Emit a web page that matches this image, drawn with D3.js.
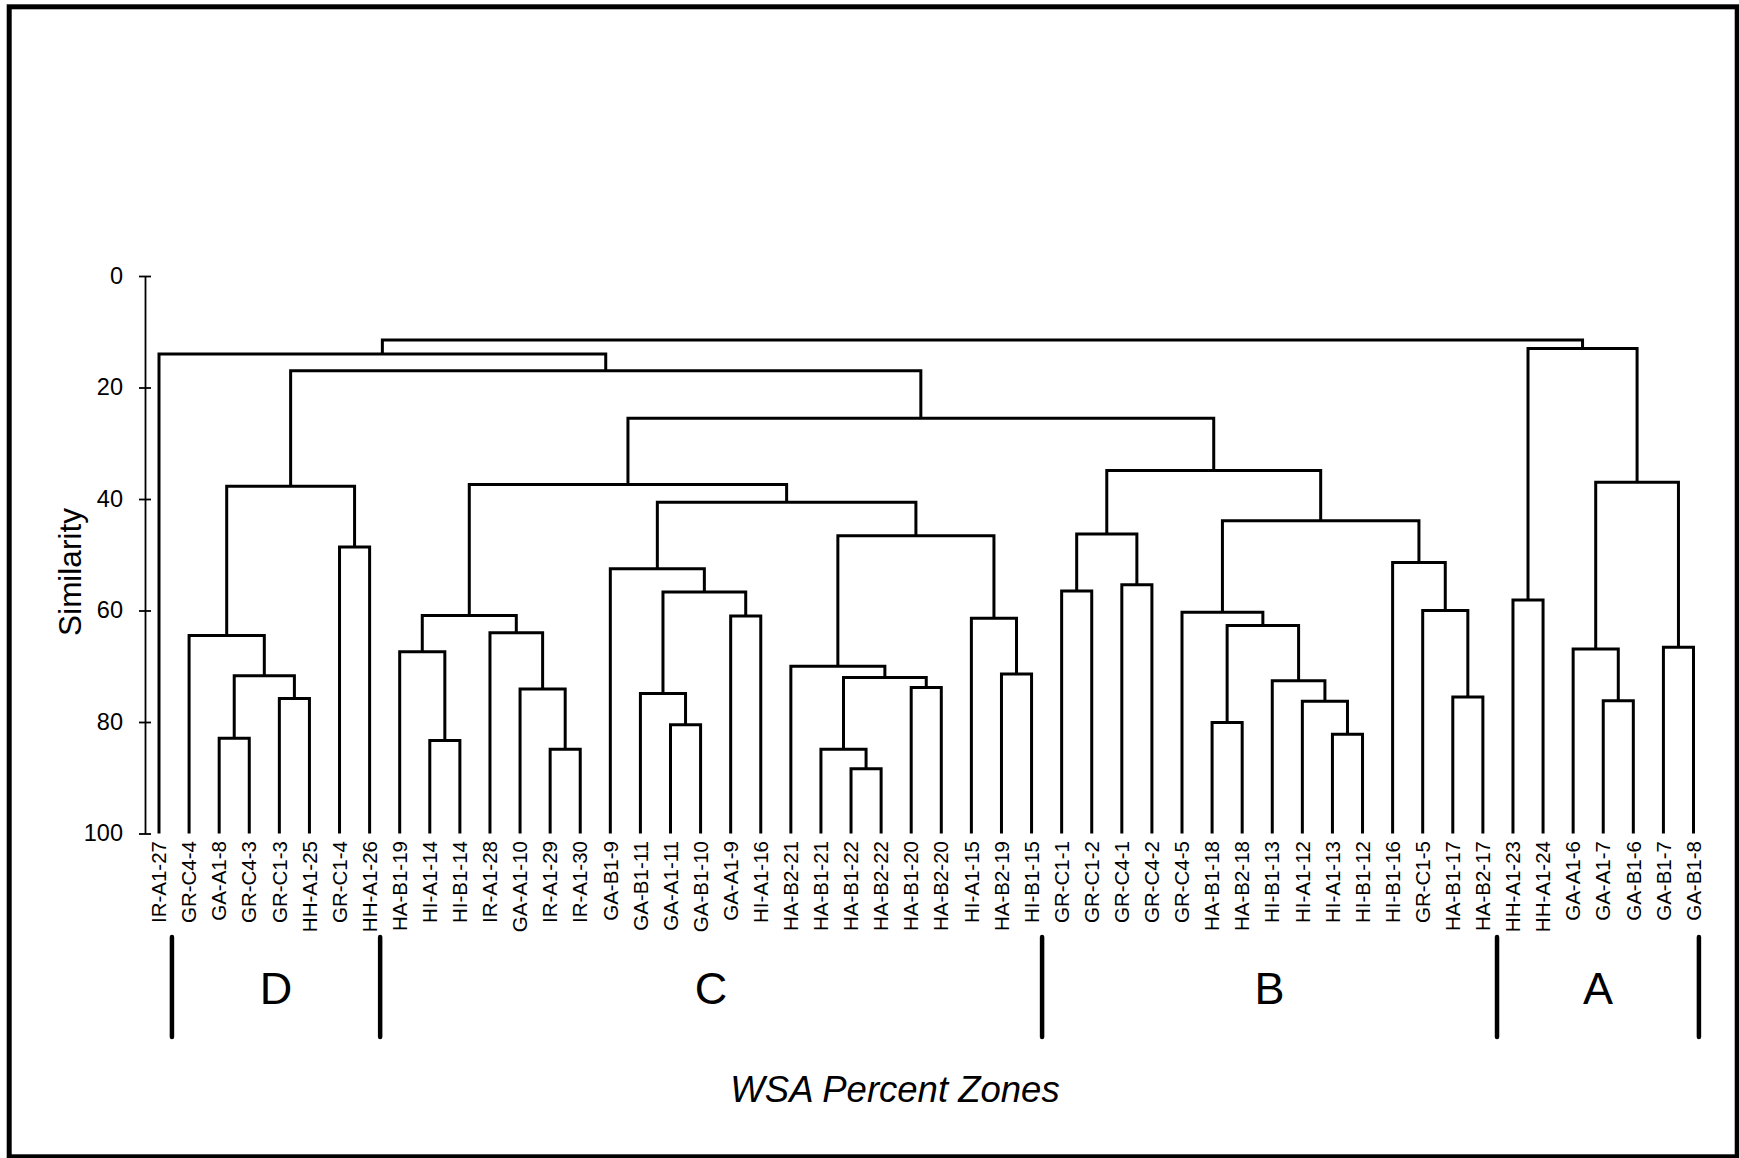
<!DOCTYPE html>
<html><head><meta charset="utf-8">
<script src="https://cdn.jsdelivr.net/npm/d3@7"></script>
<style>body{margin:0;background:#fff}</style>
</head><body><svg id="chart" width="1739" height="1158"></svg>
<script>
// ---- data ----
const leaves = [
  "IR-A1-27","GR-C4-4","GA-A1-8","GR-C4-3","GR-C1-3","HH-A1-25","GR-C1-4","HH-A1-26",
  "HA-B1-19","HI-A1-14","HI-B1-14","IR-A1-28","GA-A1-10","IR-A1-29","IR-A1-30","GA-B1-9",
  "GA-B1-11","GA-A1-11","GA-B1-10","GA-A1-9","HI-A1-16","HA-B2-21","HA-B1-21","HA-B1-22",
  "HA-B2-22","HA-B1-20","HA-B2-20","HI-A1-15","HA-B2-19","HI-B1-15",
  "GR-C1-1","GR-C1-2","GR-C4-1","GR-C4-2","GR-C4-5","HA-B1-18","HA-B2-18","HI-B1-13",
  "HI-A1-12","HI-A1-13","HI-B1-12","HI-B1-16","GR-C1-5","HA-B1-17","HA-B2-17",
  "HH-A1-23","HH-A1-24","GA-A1-6","GA-A1-7","GA-B1-6","GA-B1-7","GA-B1-8"
];
// merges: [id, left child, right child, similarity at which they join]
const merges = [
  ["m01","GA-A1-8","GR-C4-3",82.9],
  ["m02","GR-C1-3","HH-A1-25",75.8],
  ["m03","m01","m02",71.7],
  ["m04","GR-C4-4","m03",64.5],
  ["m05","GR-C1-4","HH-A1-26",48.6],
  ["m06","m04","m05",37.7],
  ["m07","HI-A1-14","HI-B1-14",83.3],
  ["m08","HA-B1-19","m07",67.4],
  ["m09","IR-A1-29","IR-A1-30",84.9],
  ["m10","GA-A1-10","m09",74.1],
  ["m11","IR-A1-28","m10",64.0],
  ["m12","m08","m11",60.9],
  ["m13","GA-A1-11","GA-B1-10",80.5],
  ["m14","GA-B1-11","m13",74.9],
  ["m15","GA-A1-9","HI-A1-16",61.0],
  ["m16","m14","m15",56.7],
  ["m17","GA-B1-9","m16",52.5],
  ["m18","HA-B1-22","HA-B2-22",88.4],
  ["m19","HA-B1-21","m18",84.9],
  ["m20","HA-B1-20","HA-B2-20",73.8],
  ["m21","m19","m20",72.0],
  ["m22","HA-B2-21","m21",70.0],
  ["m23","HA-B2-19","HI-B1-15",71.4],
  ["m24","HI-A1-15","m23",61.4],
  ["m25","m22","m24",46.6],
  ["m26","m17","m25",40.6],
  ["m27","m12","m26",37.4],
  ["m28","GR-C1-1","GR-C1-2",56.5],
  ["m29","GR-C4-1","GR-C4-2",55.4],
  ["m30","m28","m29",46.3],
  ["m31","HA-B1-18","HA-B2-18",80.1],
  ["m32","HI-A1-13","HI-B1-12",82.2],
  ["m33","HI-A1-12","m32",76.3],
  ["m34","HI-B1-13","m33",72.6],
  ["m35","m31","m34",62.7],
  ["m36","GR-C4-5","m35",60.3],
  ["m37","HA-B1-17","HA-B2-17",75.5],
  ["m38","GR-C1-5","m37",60.0],
  ["m39","HI-B1-16","m38",51.4],
  ["m40","m36","m39",43.9],
  ["m41","m30","m40",34.9],
  ["m42","m27","m41",25.5],
  ["m43","m06","m42",17.0],
  ["m44","IR-A1-27","m43",14.0],
  ["m45","HH-A1-23","HH-A1-24",58.1],
  ["m46","GA-A1-7","GA-B1-6",76.2],
  ["m47","GA-A1-6","m46",66.9],
  ["m48","GA-B1-7","GA-B1-8",66.6],
  ["m49","m47","m48",37.0],
  ["m50","m45","m49",13.0],
  ["m51","m44","m50",11.5]
];
const yTicks = [0, 20, 40, 60, 80, 100];
const zoneNames = ["D", "C", "B", "A"];
const zoneBreaks = [0.43, 7.35, 29.35, 44.47, 51.18]; // in leaf-index units
const yTitle = "Similarity";
const xTitle = "WSA Percent Zones";

// ---- drawing ----
const font = "Arial, 'Liberation Sans', sans-serif";
const svg = d3.select("#chart");
svg.append("rect").attr("x", 0).attr("y", 0).attr("width", 1739).attr("height", 1158).attr("fill", "#fff");
svg.append("rect").attr("x", 9.2).attr("y", 6.8).attr("width", 1728).attr("height", 1150)
  .attr("fill", "none").attr("stroke", "#000").attr("stroke-width", 5);

const x = d3.scalePoint().domain(leaves).range([159, 1693.5]);
const xi = d3.scaleLinear().domain([0, leaves.length - 1]).range([159, 1693.5]);
const y = d3.scaleLinear().domain([0, 100]).range([276, 833.5]);

const nodes = new Map();
leaves.forEach(l => nodes.set(l, {name: l, sim: 100}));
merges.forEach(([id, a, b, h]) => nodes.set(id, {name: id, sim: h, children: [nodes.get(a), nodes.get(b)]}));
const root = d3.hierarchy(nodes.get(merges[merges.length - 1][0]));
root.eachAfter(n => {
  n.px = n.children ? d3.mean(n.children, c => c.px) : x(n.data.name);
  n.py = y(n.data.sim);
});

svg.append("g").selectAll("path")
  .data(root.descendants().filter(n => n.children))
  .join("path")
  .attr("d", n => {
    const [a, b] = n.children;
    return `M${a.px},${a.py}V${n.py}H${b.px}V${b.py}`;
  })
  .attr("fill", "none").attr("stroke", "#000").attr("stroke-width", 3)
  .attr("stroke-linejoin", "miter");

// y axis
const ax = svg.append("g").attr("transform", "translate(145,0)")
  .call(d3.axisLeft(y).tickValues(yTicks).tickSizeOuter(0).tickSizeInner(6));
ax.attr("font-family", font).attr("font-size", 23.5);
ax.select(".domain").attr("stroke", "#000").attr("stroke-width", 1.8);
ax.selectAll(".tick line").attr("x1", 6).attr("stroke", "#000").attr("stroke-width", 1.8);
ax.selectAll(".tick text").attr("x", -22).attr("dy", "0.3em").attr("fill", "#000");

svg.append("text").attr("transform", "translate(81,572) rotate(-90)")
  .attr("text-anchor", "middle").attr("font-family", font).attr("font-size", 31.5)
  .text(yTitle);

// leaf labels
svg.append("g").selectAll("text").data(leaves).join("text")
  .attr("transform", d => `translate(${x(d)},841) rotate(-90)`)
  .attr("dy", "0.35em").attr("text-anchor", "end")
  .attr("font-family", font).attr("font-size", 20.5)
  .text(d => d);

// zones
svg.append("g").selectAll("line").data(zoneBreaks).join("line")
  .attr("x1", d => xi(d)).attr("x2", d => xi(d))
  .attr("y1", 937).attr("y2", 1037)
  .attr("stroke", "#000").attr("stroke-width", 4.5).attr("stroke-linecap", "round");
svg.append("g").selectAll("text").data(zoneNames).join("text")
  .attr("x", (d, i) => xi((zoneBreaks[i] + zoneBreaks[i + 1]) / 2))
  .attr("y", 1004).attr("text-anchor", "middle")
  .attr("font-family", font).attr("font-size", 45)
  .text(d => d);

svg.append("text").attr("x", 895).attr("y", 1102).attr("text-anchor", "middle")
  .attr("font-family", font).attr("font-size", 36.5).attr("font-style", "italic")
  .text(xTitle);
</script>
</body></html>
